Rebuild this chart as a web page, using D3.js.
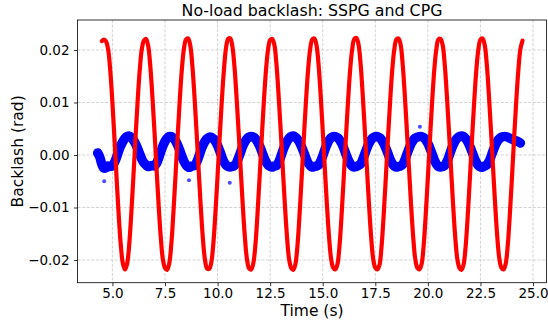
<!DOCTYPE html>
<html>
<head>
<meta charset="utf-8">
<script src="https://cdn.jsdelivr.net/npm/d3@7"></script>
<style>
  body { margin: 0; background: #fff; }
  text { font-family: "DejaVu Sans", sans-serif; fill: #000; }
</style>
</head>
<body>
<div id="chart"></div>
<script>
// tick labels
const xTicks = [5, 7.5, 10, 12.5, 15, 17.5, 20, 22.5, 25];
const yTicks = [-0.02, -0.01, 0, 0.01, 0.02];

const sampleStep = 0.1;

// CPG (red), starts at 4.5 s
const cpgStart = 4.5;
const cpgValues = [
  0.0217, 0.0220, 0.0216, 0.0200, 0.0160, 0.0100, 0.0030, -0.0045, -0.0115, -0.0172,
  -0.0207, -0.0218, -0.0207, -0.0170, -0.0110, -0.0040, 0.0034, 0.0103, 0.0162, 0.0202, 0.0218,
  0.0221, 0.0208, 0.0170, 0.0112, 0.0045, -0.0027, -0.0097, -0.0157, -0.0199, -0.0215,
  -0.0219, -0.0207, -0.0170, -0.0110, -0.0040, 0.0034, 0.0103, 0.0162, 0.0202, 0.0220,
  0.0222, 0.0209, 0.0171, 0.0113, 0.0045, -0.0028, -0.0098, -0.0158, -0.0199, -0.0216,
  -0.0217, -0.0205, -0.0168, -0.0109, -0.0040, 0.0033, 0.0102, 0.0161, 0.0203, 0.0221,
  0.0222, 0.0208, 0.0170, 0.0112, 0.0045, -0.0027, -0.0097, -0.0157, -0.0199, -0.0216,
  -0.0218, -0.0206, -0.0171, -0.0111, -0.0041, 0.0032, 0.0101, 0.0160, 0.0201, 0.0219,
  0.0221, 0.0210, 0.0173, 0.0115, 0.0048, -0.0024, -0.0094, -0.0155, -0.0198, -0.0215,
  -0.0219, -0.0208, -0.0172, -0.0112, -0.0042, 0.0031, 0.0100, 0.0160, 0.0201, 0.0220,
  0.0222, 0.0210, 0.0173, 0.0115, 0.0047, -0.0025, -0.0095, -0.0156, -0.0198, -0.0215,
  -0.0218, -0.0208, -0.0172, -0.0112, -0.0042, 0.0031, 0.0100, 0.0160, 0.0201, 0.0221,
  0.0223, 0.0211, 0.0174, 0.0116, 0.0048, -0.0024, -0.0094, -0.0155, -0.0198, -0.0215,
  -0.0218, -0.0209, -0.0173, -0.0113, -0.0043, 0.0030, 0.0099, 0.0159, 0.0200, 0.0220,
  0.0222, 0.0211, 0.0174, 0.0116, 0.0048, -0.0024, -0.0094, -0.0155, -0.0198, -0.0215,
  -0.0218, -0.0208, -0.0172, -0.0112, -0.0042, 0.0031, 0.0100, 0.0160, 0.0201, 0.0220,
  0.0221, 0.0210, 0.0173, 0.0115, 0.0047, -0.0025, -0.0095, -0.0156, -0.0198, -0.0215,
  -0.0219, -0.0208, -0.0172, -0.0112, -0.0042, 0.0031, 0.0100, 0.0160, 0.0201, 0.0220,
  0.0222, 0.0210, 0.0173, 0.0115, 0.0047, -0.0025, -0.0095, -0.0156, -0.0198, -0.0215,
  -0.0218, -0.0207, -0.0171, -0.0111, -0.0041, 0.0032, 0.0101, 0.0161, 0.0202, 0.0218
];

// SSPG (blue), starts at 4.3 s
const sspgStart = 4.3;
const sspgValues = [
  0.0004, -0.0004, -0.0018, -0.0025, -0.0024, -0.0021, -0.0022, -0.0021, -0.0014, -0.0004,
  0.0008, 0.0018, 0.0026, 0.0032, 0.0035, 0.0036, 0.0033, 0.0028, 0.0021, 0.0012,
  0.0002, -0.0008, -0.0015, -0.0019, -0.0022, -0.0021, -0.0020, -0.0021, -0.0016, -0.0006,
  0.0006, 0.0017, 0.0026, 0.0032, 0.0035, 0.0035, 0.0032, 0.0027, 0.0019, 0.0009,
  -0.0002, -0.0012, -0.0019, -0.0023, -0.0023, -0.0021, -0.0020, -0.0014, -0.0004, 0.0008,
  0.0018, 0.0026, 0.0031, 0.0034, 0.0034, 0.0031, 0.0026, 0.0018, 0.0008, -0.0003,
  -0.0013, -0.0019, -0.0022, -0.0023, -0.0022, -0.0020, -0.0015, -0.0005, 0.0006, 0.0017,
  0.0025, 0.0031, 0.0034, 0.0035, 0.0034, 0.0031, 0.0025, 0.0017, 0.0007, -0.0004,
  -0.0013, -0.0019, -0.0022, -0.0023, -0.0021, -0.0020, -0.0014, -0.0004, 0.0008, 0.0018,
  0.0026, 0.0032, 0.0035, 0.0036, 0.0034, 0.0030, 0.0024, 0.0015, 0.0005, -0.0006,
  -0.0015, -0.0020, -0.0023, -0.0022, -0.0021, -0.0019, -0.0012, -0.0002, 0.0010, 0.0020,
  0.0028, 0.0033, 0.0035, 0.0035, 0.0033, 0.0029, 0.0022, 0.0013, 0.0002, -0.0008,
  -0.0016, -0.0021, -0.0023, -0.0022, -0.0020, -0.0017, -0.0009, 0.0002, 0.0013, 0.0022,
  0.0029, 0.0033, 0.0035, 0.0035, 0.0033, 0.0029, 0.0022, 0.0013, 0.0003, -0.0008,
  -0.0016, -0.0021, -0.0023, -0.0022, -0.0021, -0.0018, -0.0010, 0.0001, 0.0012, 0.0021,
  0.0028, 0.0032, 0.0034, 0.0035, 0.0035, 0.0033, 0.0029, 0.0022, 0.0013, 0.0002,
  -0.0009, -0.0017, -0.0022, -0.0023, -0.0022, -0.0020, -0.0013, -0.0003, 0.0009, 0.0019,
  0.0027, 0.0032, 0.0035, 0.0036, 0.0035, 0.0031, 0.0025, 0.0016, 0.0006, -0.0005,
  -0.0014, -0.0020, -0.0023, -0.0023, -0.0021, -0.0019, -0.0013, -0.0003, 0.0008, 0.0018,
  0.0026, 0.0031, 0.0034, 0.0035, 0.0035, 0.0034, 0.0032, 0.0030, 0.0028, 0.0027,
  0.0025, 0.0023
];
const sspgOutliers = [[4.61, -0.0050], [8.64, -0.0048], [10.58, -0.0053], [19.62, 0.0054]];

const W = 548, H = 326;
const plot = { left: 77.5, right: 546.5, top: 20, bottom: 282.7 };

const svg = d3.select('#chart').append('svg')
  .attr('width', W).attr('height', H);

const x = d3.scaleLinear().domain([3.34, 25.64]).range([plot.left, plot.right]);
const y = d3.scaleLinear().domain([-0.02432, 0.02571]).range([plot.bottom, plot.top]);

// grid
const grid = svg.append('g').attr('stroke', '#c8c8c8').attr('stroke-width', 0.8)
  .attr('stroke-dasharray', '3,1.6');
grid.selectAll('.gx').data(xTicks).enter().append('line')
  .attr('x1', d => x(d)).attr('x2', d => x(d))
  .attr('y1', plot.top).attr('y2', plot.bottom);
grid.selectAll('.gy').data(yTicks).enter().append('line')
  .attr('y1', d => y(d)).attr('y2', d => y(d))
  .attr('x1', plot.left).attr('x2', plot.right);

svg.append('clipPath').attr('id', 'clip').append('rect')
  .attr('x', plot.left).attr('y', plot.top)
  .attr('width', plot.right - plot.left).attr('height', plot.bottom - plot.top);
const marks = svg.append('g').attr('clip-path', 'url(#clip)');

const sspg = sspgValues.map((v, i) => [sspgStart + i * sampleStep, v]);
const cpg = cpgValues.map((v, i) => [cpgStart + i * sampleStep, v]);

const line = d3.line().x(d => x(d[0])).y(d => y(d[1])).curve(d3.curveCatmullRom);

// SSPG band
marks.append('path').datum(sspg)
  .attr('d', line).attr('fill', 'none')
  .attr('stroke', '#0000ff').attr('stroke-width', 9.5)
  .attr('stroke-linejoin', 'round').attr('stroke-linecap', 'round');
marks.selectAll('.out').data(sspgOutliers).enter().append('circle')
  .attr('cx', d => x(d[0])).attr('cy', d => y(d[1])).attr('r', 2)
  .attr('fill', '#0000ff').attr('opacity', 0.7);

// CPG
marks.append('path').datum(cpg)
  .attr('d', line).attr('fill', 'none')
  .attr('stroke', '#ff0000').attr('stroke-width', 4.2)
  .attr('stroke-linejoin', 'round').attr('stroke-linecap', 'round');

// axes
svg.append('rect')
  .attr('x', plot.left).attr('y', plot.top)
  .attr('width', plot.right - plot.left).attr('height', plot.bottom - plot.top)
  .attr('fill', 'none').attr('stroke', '#000').attr('stroke-width', 0.8);

const xAxis = svg.append('g')
  .attr('transform', `translate(0,${plot.bottom})`)
  .call(d3.axisBottom(x).tickValues(xTicks).tickFormat(d3.format('.1f'))
    .tickSize(3.5).tickSizeOuter(0).tickPadding(2.5));
const yAxis = svg.append('g')
  .attr('transform', `translate(${plot.left},0)`)
  .call(d3.axisLeft(y).tickValues(yTicks).tickFormat(d3.format('.2f'))
    .tickSize(3.5).tickSizeOuter(0).tickPadding(4.5));
[xAxis, yAxis].forEach(a => {
  a.select('.domain').remove();
  a.selectAll('line').attr('stroke', '#000').attr('stroke-width', 0.8);
  a.selectAll('text').attr('font-size', '13.5px').attr('font-family', '"DejaVu Sans", sans-serif').attr('fill', '#000');
});

svg.append('text')
  .attr('x', (plot.left + plot.right) / 2).attr('y', 15.5)
  .attr('text-anchor', 'middle').attr('font-size', '15.8px')
  .text('No-load backlash: SSPG and CPG');

svg.append('text')
  .attr('x', (plot.left + plot.right) / 2).attr('y', 316)
  .attr('text-anchor', 'middle').attr('font-size', '15.5px')
  .text('Time (s)');

svg.append('text')
  .attr('transform', `translate(22.5,${(plot.top + plot.bottom) / 2}) rotate(-90)`)
  .attr('text-anchor', 'middle').attr('font-size', '15.5px')
  .text('Backlash (rad)');
</script>
</body>
</html>
